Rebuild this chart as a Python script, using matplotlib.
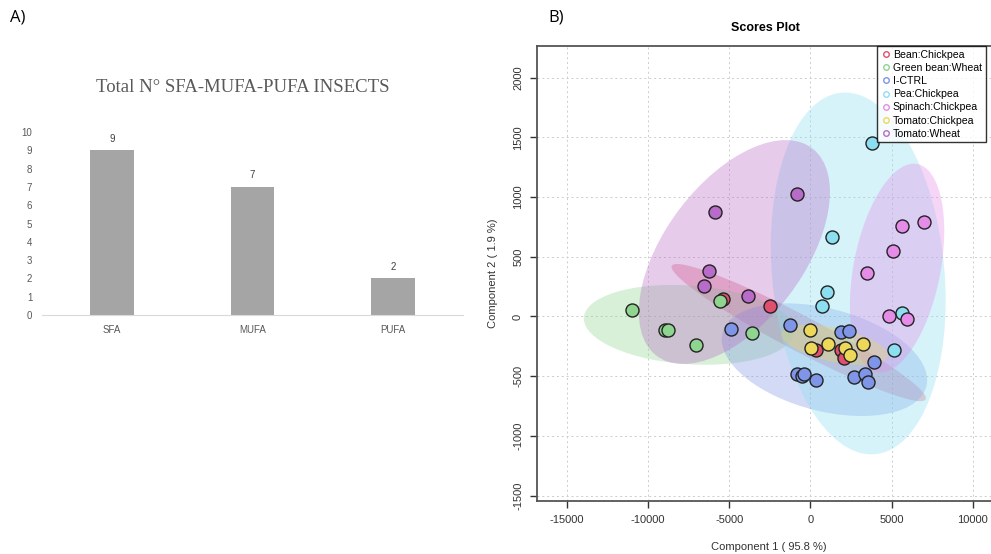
import numpy as np
import matplotlib
matplotlib.use('Agg')
import matplotlib.pyplot as plt
from matplotlib.patches import Ellipse
from matplotlib.lines import Line2D

plt.rcParams['font.family'] = ['Liberation Sans', 'DejaVu Sans']
plt.rcParams['axes.unicode_minus'] = False

# panel A data
fa_types = ['SFA', 'MUFA', 'PUFA']
fa_counts = [9, 7, 2]

# panel B data (PCA scores)
groups = ['Bean:Chickpea', 'Green bean:Wheat', 'I-CTRL', 'Pea:Chickpea',
          'Spinach:Chickpea', 'Tomato:Chickpea', 'Tomato:Wheat']
colors = ['#E0506E', '#8FD48F', '#7F95E8', '#8CDFF0', '#E58BE8', '#EDD85A', '#B86BC8']

bean_x = [-5412, -2497, 350, 1888, 2073]
bean_y = [150, 89, -285, -285, -344]
greenbean_x = [-10965, -8936, -8793, -7030, -3604, -5553]
greenbean_y = [55, -112, -115, -238, -142, 131]
ctrl_x = [-4877, -1230, 1906, 2361, 3936, -818, -492, -387, 350, 2687, 3345, 3567]
ctrl_y = [-104, -70, -134, -123, -380, -486, -500, -483, -531, -503, -481, -550]
pea_x = [3775, 1316, 1008, 738, 5148, 5660]
pea_y = [1454, 667, 206, 89, -285, 28]
spinach_x = [5660, 6993, 5106, 3467, 4822, 5947]
spinach_y = [754, 792, 544, 360, 3, -23]
tomchick_x = [-18, 43, 1070, 2153, 2442, 3241]
tomchick_y = [-115, -265, -232, -260, -324, -232]
tomwheat_x = [-818, -5860, -6273, -6580, -3874]
tomwheat_y = [1022, 871, 379, 254, 170]

scores_x = [bean_x, greenbean_x, ctrl_x, pea_x, spinach_x, tomchick_x, tomwheat_x]
scores_y = [bean_y, greenbean_y, ctrl_y, pea_y, spinach_y, tomchick_y, tomwheat_y]


def conf_ellipse(x, y, color, ax):
    # 95% confidence ellipse from the group covariance
    x = np.array(x, float)
    y = np.array(y, float)
    cov = np.cov(x, y)
    vals, vecs = np.linalg.eigh(cov)
    order = vals.argsort()[::-1]
    vals, vecs = vals[order], vecs[:, order]
    angle = np.degrees(np.arctan2(vecs[1, 0], vecs[0, 0]))
    k = np.sqrt(5.991)
    e = Ellipse((x.mean(), y.mean()), 2 * k * np.sqrt(vals[0]), 2 * k * np.sqrt(vals[1]),
                angle=angle, facecolor=color, edgecolor='none', alpha=0.35, zorder=1)
    ax.add_patch(e)


fig = plt.figure(figsize=(9.91, 5.54), dpi=100)

# ---- panel A
axa = fig.add_axes([42 / 991, 1 - 315 / 554, 421 / 991, 183 / 554])
pos = np.arange(len(fa_types))
axa.bar(pos, fa_counts, width=0.31, color='#A5A5A5', zorder=2)
for p, v in zip(pos, fa_counts):
    axa.text(p, v + 0.35, str(v), ha='center', va='bottom', fontsize=7, color='#404040')
axa.set_xlim(-0.5, 2.5)
axa.set_ylim(0, 10)
axa.set_yticks(range(11))
axa.set_xticks(pos)
axa.set_xticklabels(fa_types)
axa.tick_params(length=0, labelsize=7, colors='#595959', pad=7)
for s in ['top', 'right', 'left']:
    axa.spines[s].set_visible(False)
axa.spines['bottom'].set_color('#D9D9D9')
fig.text(243 / 991, 1 - 88 / 554, 'Total N° SFA-MUFA-PUFA INSECTS', ha='center', va='center',
         fontsize=13.5, color='#595959', family=['Liberation Serif', 'DejaVu Serif'])

fig.text(10 / 991, 1 - 18 / 554, 'A)', fontsize=12, va='center', family=['Open Sans', 'DejaVu Sans'])
fig.text(548 / 991, 1 - 18 / 554, 'B)', fontsize=12, va='center', family=['Open Sans', 'DejaVu Sans'])

# ---- panel B
axb = fig.add_axes([537 / 991, 1 - 501 / 554, 463 / 991, 455 / 554])
for gx, gy, c in zip(scores_x, scores_y, colors):
    conf_ellipse(gx, gy, c, axb)
for gx, gy, c in zip(scores_x, scores_y, colors):
    axb.scatter(gx, gy, s=88, facecolor=c, edgecolor='#222222', linewidth=1.0, zorder=3)
axb.set_xlim(-16830, 11667)
axb.set_ylim(-1545, 2264)
axb.set_xticks([-15000, -10000, -5000, 0, 5000, 10000])
axb.set_yticks([-1500, -1000, -500, 0, 500, 1000, 1500, 2000])
axb.grid(True, linestyle=(0, (2, 3)), color='#CCCCCC', linewidth=0.7, zorder=0)
axb.set_axisbelow(True)
for lab in axb.get_yticklabels():
    lab.set_rotation(90)
    lab.set_va('center')
axb.tick_params(labelsize=8, colors='#333333', length=5, width=1, pad=5)
for s in axb.spines.values():
    s.set_color('#555555')
    s.set_linewidth(1.3)
axb.set_xlabel('Component 1 ( 95.8 %)', fontsize=8, color='#333333', labelpad=12)
axb.set_ylabel('Component 2 ( 1.9 %)', fontsize=8, color='#333333', labelpad=11)
fig.text(765 / 991, 1 - 28 / 554, 'Scores Plot', ha='center', va='center', fontsize=9, fontweight='bold')

handles = [Line2D([], [], marker='o', linestyle='none', markerfacecolor='none',
                  markeredgecolor=c, markersize=4, markeredgewidth=1) for c in colors]
leg = fig.legend(handles, groups, loc='upper left', bbox_to_anchor=(877 / 991, 1 - 46 / 554),
                 fontsize=7.6, frameon=True, fancybox=False, borderpad=0.35, handletextpad=0.15,
                 labelspacing=0.3, handlelength=1.0, borderaxespad=0)
leg.get_frame().set_edgecolor('black')
leg.get_frame().set_linewidth(1)

fig.savefig('out.png', dpi=100)
